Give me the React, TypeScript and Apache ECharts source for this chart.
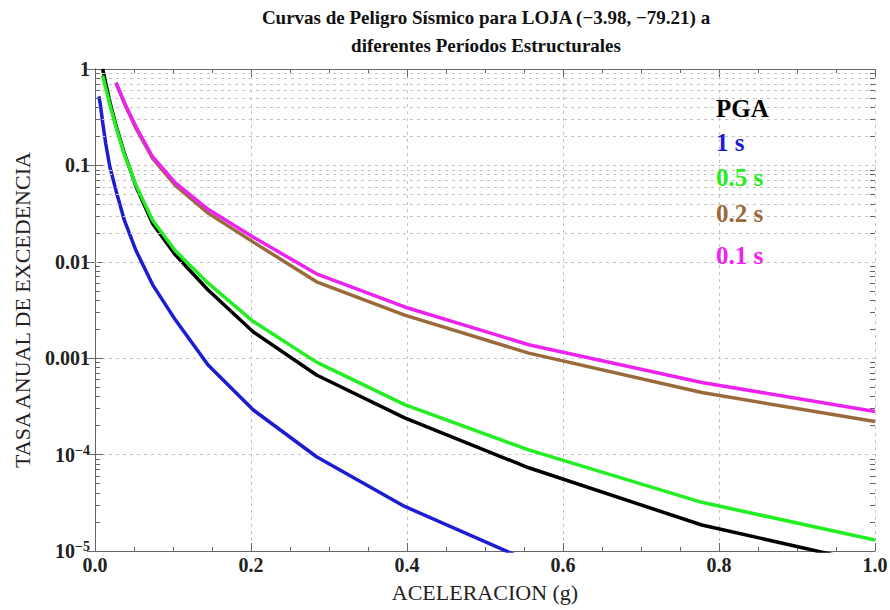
import { useEffect, useRef } from "react";
import * as echarts from "echarts";

// Aceleración (g) grid of the hazard curves
const accelerations = [0.005, 0.007, 0.0098, 0.0137, 0.0192, 0.0269, 0.0376, 0.0527, 0.0738, 0.103, 0.145, 0.203, 0.284, 0.397, 0.556, 0.778, 1.0];

// Tasa anual de excedencia per period
const tasaPGA = [null, null, 1.0, 0.72, 0.45, 0.26, 0.134, 0.06, 0.025, 0.0118, 0.0051, 0.00187, 0.00067, 0.00024, 7.3e-5, 1.86e-5, 7.3e-6];
const tasa1s = [0.52, 0.42, 0.28, 0.17, 0.095, 0.055, 0.027, 0.013, 0.0058, 0.0025, 0.00085, 0.00029, 9.5e-5, 2.9e-5, 7.9e-6, null, null];
const tasa05s = [null, null, 0.85, 0.64, 0.42, 0.25, 0.13, 0.062, 0.027, 0.013, 0.006, 0.0024, 0.00091, 0.00033, 0.000112, 3.2e-5, 1.3e-5];
const tasa02s = [null, null, null, null, null, 0.72, 0.44, 0.24, 0.118, 0.062, 0.032, 0.016, 0.0062, 0.0028, 0.00113, 4.4e-4, 2.2e-4];
const tasa01s = [null, null, null, null, null, 0.72, 0.45, 0.25, 0.123, 0.066, 0.035, 0.018, 0.0075, 0.0034, 0.00138, 5.6e-4, 2.8e-4];

const seriesNames = ["PGA", "1 s", "0.5 s", "0.2 s", "0.1 s"];
const seriesColors = ["#000000", "#1c1cd0", "#22ee22", "#9b6a3a", "#ee22ee"];
const seriesValues = [tasaPGA, tasa1s, tasa05s, tasa02s, tasa01s];

const minorMultipliers = [2, 3, 4, 5, 6, 7, 8, 9];
const minorDecades = [-5, -4, -3, -2, -1];

const titleText = "Curvas de Peligro Sísmico para LOJA (−3.98, −79.21) a\ndiferentes Períodos Estructurales";
const xName = "ACELERACION (g)";
const yName = "TASA ANUAL DE EXCEDENCIA";

const FONT = '"Liberation Serif", "DejaVu Serif", serif';

export default function App() {
  const ref = useRef<HTMLDivElement>(null);
  useEffect(() => {
    if (!ref.current) return;
    const chart = echarts.init(ref.current, undefined, { renderer: "svg" });

    const minorValues: number[] = [];
    minorDecades.forEach((d) => minorMultipliers.forEach((m) => minorValues.push(m * Math.pow(10, d))));

    const gridLines = minorValues.map((v) => ({ yAxis: v }));
    const leftTicks = minorValues.map((v) => [{ coord: [0, v] }, { coord: [0.0065, v] }]);
    const rightTicks = minorValues.map((v) => [{ coord: [1, v] }, { coord: [0.9935, v] }]);

    const legendY = [108, 142, 177, 213, 255];

    const option: any = {
      animation: false,
      backgroundColor: "#ffffff",
      title: {
        text: titleText,
        left: 486,
        top: 3,
        padding: 0,
        textAlign: "center",
        textStyle: { fontFamily: FONT, fontWeight: "bold", fontSize: 19, lineHeight: 28, color: "#111" },
      },
      grid: { left: 95, right: 15, top: 69, bottom: 59, containLabel: false, outerBoundsMode: "none" },
      xAxis: [
        {
          type: "value",
          min: 0,
          max: 1,
          interval: 0.2,
          name: xName,
          nameLocation: "middle",
          nameGap: 30,
          nameTextStyle: { fontFamily: FONT, fontSize: 22, color: "#222" },
          axisLine: { show: true, lineStyle: { color: "#666", width: 1 } },
          axisTick: { show: true, inside: true, length: 8, lineStyle: { color: "#666" } },
          minorTick: { show: true, splitNumber: 4, length: 4, lineStyle: { color: "#666" } },
          axisLabel: {
            fontFamily: FONT,
            fontWeight: "bold",
            fontSize: 20,
            color: "#222",
            margin: 4,
            formatter: (v: number) => v.toFixed(1),
          },
          splitLine: { show: true, lineStyle: { color: "#c4c4c4", type: [3, 4], width: 1 } },
        },
        {
          type: "value",
          position: "top",
          min: 0,
          max: 1,
          interval: 0.2,
          axisLine: { show: true, lineStyle: { color: "#666", width: 1 } },
          axisTick: { show: true, inside: true, length: 8, lineStyle: { color: "#666" } },
          minorTick: { show: true, splitNumber: 4, length: 4, lineStyle: { color: "#666" } },
          axisLabel: { show: false },
          splitLine: { show: false },
        },
      ],
      yAxis: [
        {
          type: "log",
          logBase: 10,
          min: 1e-5,
          max: 1,
          name: yName,
          nameLocation: "middle",
          nameGap: 62,
          nameTextStyle: { fontFamily: FONT, fontSize: 22, color: "#222" },
          axisLine: { show: true, lineStyle: { color: "#666", width: 1 } },
          axisTick: { show: true, inside: true, length: 8, lineStyle: { color: "#666" } },
          axisLabel: {
            fontFamily: FONT,
            fontWeight: "bold",
            fontSize: 20,
            color: "#222",
            margin: 5,
            formatter: (v: number) => {
              const e = Math.round(Math.log10(v));
              if (e === 0) return "1";
              if (e >= -3) return Math.pow(10, e).toFixed(-e);
              return `10{sup|−${-e}}`;
            },
            rich: {
              sup: { fontFamily: FONT, fontWeight: "bold", fontSize: 14, color: "#222", verticalAlign: "top", padding: [0, 0, 9, 0] },
            },
          },
          splitLine: { show: true, lineStyle: { color: "#c4c4c4", type: [3, 4], width: 1 } },
        },
        {
          type: "log",
          logBase: 10,
          min: 1e-5,
          max: 1,
          position: "right",
          axisLine: { show: true, lineStyle: { color: "#666", width: 1 } },
          axisTick: { show: true, inside: true, length: 8, lineStyle: { color: "#666" } },
          axisLabel: { show: false },
          splitLine: { show: false },
        },
      ],
      series: [
        {
          type: "line",
          name: "grid",
          data: [],
          silent: true,
          z: 1,
          markLine: {
            silent: true,
            symbol: "none",
            label: { show: false },
            lineStyle: { color: "#c4c4c4", type: [3, 4], width: 1 },
            data: gridLines,
          },
        },
        {
          type: "line",
          name: "ticks",
          data: [],
          silent: true,
          z: 1,
          markLine: {
            silent: true,
            symbol: "none",
            label: { show: false },
            lineStyle: { color: "#666", type: "solid", width: 1 },
            data: [...leftTicks, ...rightTicks],
          },
        },
        ...seriesNames.map((name, i) => ({
          type: "line",
          name,
          z: 3 + i,
          showSymbol: false,
          symbol: "none",
          clip: true,
          smooth: false,
          lineStyle: { color: seriesColors[i], width: 3.5 },
          itemStyle: { color: seriesColors[i] },
          data: accelerations
            .map((x, j) => [x, seriesValues[i][j]])
            .filter((p) => p[1] !== null),
        })),
      ],
      graphic: seriesNames.map((name, i) => ({
        type: "text",
        x: 716,
        y: legendY[i],
        z: 100,
        style: {
          text: name,
          fill: seriesColors[i],
          font: `bold 25px ${FONT}`,
          textAlign: "left",
          textVerticalAlign: "middle",
        },
      })),
    };

    chart.setOption(option);
    return () => chart.dispose();
  }, []);

  return (
    <div
      ref={ref}
      style={{ position: "fixed", left: 0, top: 0, width: 890, height: 610, background: "#fff" }}
    />
  );
}
